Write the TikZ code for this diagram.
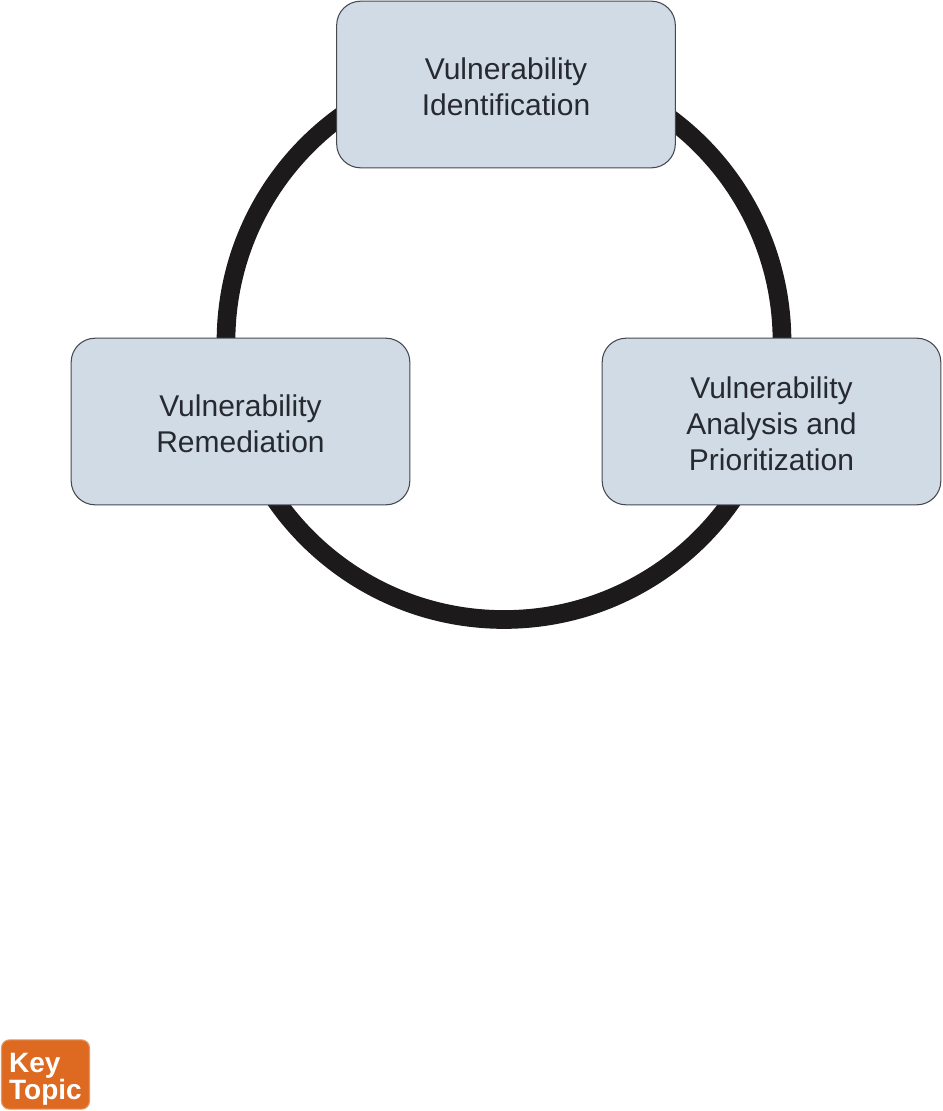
\documentclass[tikz,border=0pt]{standalone}
\usepackage{fontspec}
\setmainfont{Liberation Sans}
\usepackage{xcolor}
\usetikzlibrary{positioning}
\definecolor{boxfill}{RGB}{208,219,229}
\definecolor{boxline}{RGB}{70,74,80}
\definecolor{ringcol}{RGB}{28,26,27}
\definecolor{inkcol}{RGB}{38,42,48}
\definecolor{keycol}{RGB}{221,106,32}
\newcommand{\boxstrut}{\rule{0pt}{19pt}}
\newcommand{\keystrut}{\rule{0pt}{21.3pt}}

\begin{document}
\begin{tikzpicture}[
      x=0.75pt, y=0.75pt,
      box/.style={rectangle, rounded corners=18pt, draw=boxline, fill=boxfill,
                  line width=0.8pt, minimum width=254pt, minimum height=125pt,
                  outer sep=0pt, text=inkcol, align=center,
                  font=\fontsize{22.5}{27}\selectfont},
      ring/.style={circle, draw=ringcol, line width=14pt, minimum size=417pt,
                   inner sep=0pt, outer sep=0pt},
      key/.style={rectangle, rounded corners=6pt, draw=keycol!70!white, fill=keycol,
                  line width=0.8pt, minimum width=66pt, minimum height=52pt,
                  outer sep=0pt, inner sep=0pt, text=white, align=left,
                  font=\fontsize{21}{19.5}\bfseries\selectfont}
    ]
      \useasboundingbox (0,0) rectangle (943,-1111);
      \node[ring] (c) at (504,-341.5) {};
      \node[box] (i) at (506,-84.5) {\boxstrut Vulnerability\\Identification};
      \node[box] (rem) at (240.5,-421.5) {\boxstrut Vulnerability\\Remediation};
      \node[box] (a) at (771.5,-421.5) {\boxstrut Vulnerability\\Analysis and\\Prioritization};
      \node[key] (k) at (45.5,-1074.5) {\keystrut Key\\Topic};
    \end{tikzpicture}
\end{document}
